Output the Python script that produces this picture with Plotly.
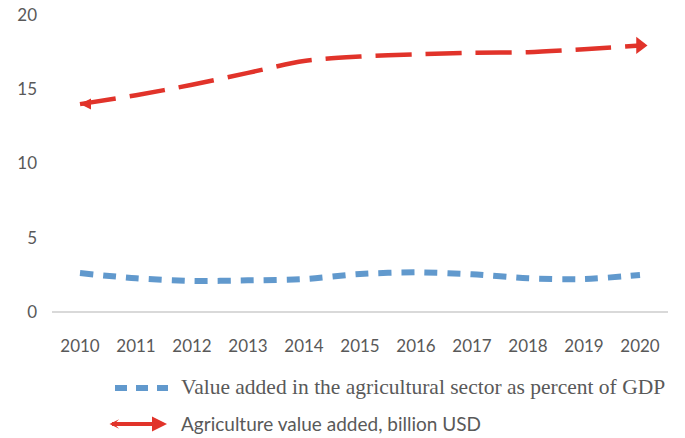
import plotly.graph_objects as go

# Years on the category axis
years = ["2010", "2011", "2012", "2013", "2014", "2015",
         "2016", "2017", "2018", "2019", "2020"]

# Agriculture value added, billion USD
ag_value_busd = [14.0, 14.6, 15.3, 16.1, 16.9, 17.2,
                 17.35, 17.45, 17.5, 17.7, 17.95]

# Value added in the agricultural sector, % of GDP
ag_share_gdp = [2.62, 2.27, 2.09, 2.13, 2.22, 2.56,
                2.67, 2.54, 2.27, 2.22, 2.49]

y_ticks = [0, 5, 10, 15, 20]

BLUE = "#6199CD"
RED = "#E1332A"
GRAY = "#595959"
SANS = "Lato, 'Open Sans', sans-serif"
SERIF = "'Liberation Serif', 'DejaVu Serif', serif"

W, H = 685, 438
M_L, M_R, M_T, M_B = 52, 17, 15, 126
PW, PH = W - M_L - M_R, H - M_T - M_B


def px_x(px):
    return (px - M_L) / PW


def px_y(py):
    return (H - M_B - py) / PH


fig = go.Figure()

fig.add_trace(go.Scatter(
    x=years, y=ag_share_gdp, mode="lines",
    line=dict(color=BLUE, width=6, dash="13px,10px", shape="spline", smoothing=0.8),
    showlegend=False, hoverinfo="x+y",
))

fig.add_trace(go.Scatter(
    x=years, y=ag_value_busd, mode="lines",
    line=dict(color=RED, width=4.5, dash="36px,14px", shape="spline", smoothing=0.8),
    showlegend=False, hoverinfo="x+y",
))

# Arrowheads at both ends of the value-added line
fig.add_trace(go.Scatter(
    x=[years[0], years[-1]], y=[ag_value_busd[0], ag_value_busd[-1]],
    mode="markers",
    marker=dict(color=RED, opacity=1,
                symbol=["arrow-left", "triangle-right"],
                size=[11, 15], line=dict(width=0)),
    showlegend=False, hoverinfo="skip",
))

# Legend drawn below the plot
fig.add_shape(type="line", xref="paper", yref="paper",
              x0=px_x(115), x1=px_x(168), y0=px_y(388), y1=px_y(388),
              line=dict(color=BLUE, width=6, dash="12px,9px"))
fig.add_annotation(xref="paper", yref="paper", x=px_x(179), y=px_y(387),
                   xanchor="left", yanchor="middle", showarrow=False,
                   text="Value added in the agricultural sector as percent of GDP",
                   font=dict(family=SERIF, size=21.5, color=GRAY))
fig.add_annotation(xref="paper", yref="paper", x=px_x(167), y=px_y(424),
                   ax=-59, ay=0, text="", showarrow=True,
                   arrowside="end+start", arrowhead=2, startarrowhead=3,
                   arrowsize=0.75, startarrowsize=0.4,
                   arrowwidth=4, arrowcolor=RED)
fig.add_annotation(xref="paper", yref="paper", x=px_x(179), y=px_y(423),
                   xanchor="left", yanchor="middle", showarrow=False,
                   text="Agriculture value added, billion USD",
                   font=dict(family=SANS, size=19, color=GRAY))

fig.update_layout(
    width=W, height=H,
    margin=dict(l=M_L, r=M_R, t=M_T, b=M_B, autoexpand=False),
    paper_bgcolor="white", plot_bgcolor="white",
    showlegend=False,
    font=dict(family=SANS, size=17, color=GRAY),
)
fig.update_xaxes(type="category", range=[-0.5, len(years) - 0.5], showgrid=False,
                 showline=False, zeroline=False, ticks="", automargin=False,
                 ticklabelstandoff=22, tickfont=dict(family=SANS, size=17, color=GRAY))
fig.update_yaxes(range=[0, 20], tickvals=y_ticks, showgrid=False,
                 zeroline=True, zerolinecolor="#D9D9D9", zerolinewidth=1.5,
                 showline=False, ticks="", ticklabelstandoff=14, automargin=False,
                 tickfont=dict(family=SANS, size=17, color=GRAY))

fig.write_html("out.html")
